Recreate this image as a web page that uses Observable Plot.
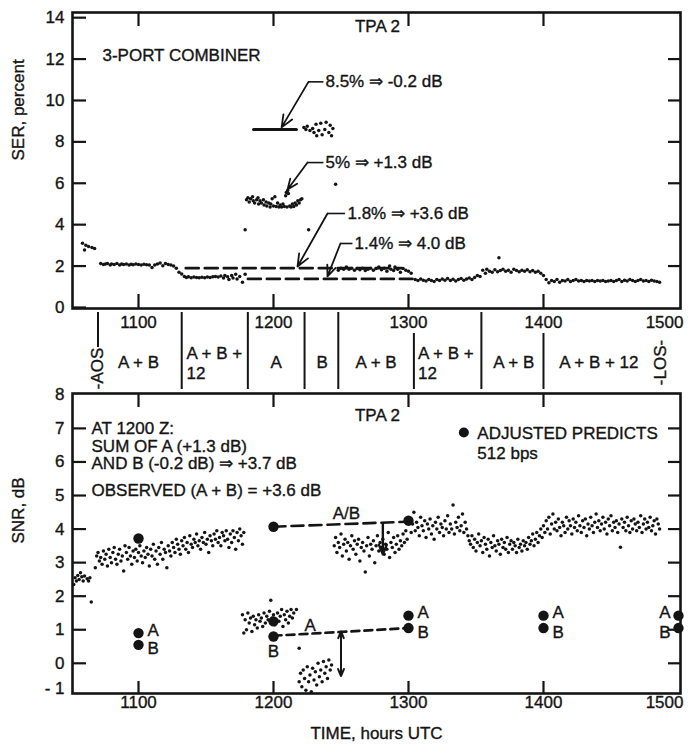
<!DOCTYPE html>
<html><head><meta charset="utf-8">
<script src="https://cdn.jsdelivr.net/npm/d3@7"></script>
<script src="https://cdn.jsdelivr.net/npm/@observablehq/plot@0.6"></script>
<style>
body{margin:0;background:#fff}
#chart{width:698px;height:749px;overflow:hidden}
#chart svg{display:block}
</style>
</head><body><div id="chart"></div>
<script>
// ---------- shared axis values (time in decimal hours UTC) ----------
const timeTicks = [11, 12, 13, 14, 15];
const frameTimeTicks = [11, 12, 13, 14];
const serTicks = [0, 2, 4, 6, 8, 10, 12, 14];
const serRightTicks = [2, 4, 6, 8, 10, 12];
const snrTicks = [0, 1, 2, 3, 4, 5, 6, 7, 8];
const snrTickMarks = [0, 1, 2, 3, 4, 5, 6, 7];

// ---------- SER, percent (top panel) ----------
const serAOS = [[10.585,3.1],[10.6,2.78],[10.61,3.0],[10.63,2.95],[10.655,2.9],[10.675,2.85]];
const ser21 = [[10.72,2.12],[10.74,2.08],[10.755,2.1],[10.77,2.13],[10.79,2.05],[10.8,2.1],[10.82,2.08],[10.84,2.12],[10.86,2.05],[10.875,2.1],[10.89,2.07],[10.91,2.1],[10.93,2.05],[10.945,2.09],[10.96,2.06],[10.98,2.1],[11.0,2.07],[11.02,2.05],[11.04,2.09],[11.06,2.06],[11.08,2.05],[11.1,1.93],[11.12,2.05],[11.14,2.1],[11.16,2.15],[11.18,2.02],[11.2,2.12],[11.22,2.08],[11.24,2.05],[11.26,2.0],[11.28,1.9],[11.3,1.7]];
const ser15 = [[11.32,1.62],[11.34,1.5],[11.355,1.45],[11.37,1.48],[11.39,1.44],[11.41,1.47],[11.43,1.45],[11.45,1.43],[11.47,1.46],[11.49,1.44],[11.51,1.47],[11.53,1.45],[11.55,1.48],[11.57,1.5],[11.59,1.47],[11.61,1.52],[11.63,1.42],[11.64,1.55],[11.66,1.48],[11.67,1.35],[11.69,1.55],[11.7,1.42],[11.72,1.6],[11.73,1.38],[11.75,1.5],[11.77,1.22],[11.79,1.6]];
const serStray = [[11.79,3.75],[12.26,3.75],[12.46,5.95],[13.67,2.4]];
const ser5 = [[11.8,5.2],[11.81,5.3],[11.82,5.1],[11.83,5.25],[11.845,5.35],[11.85,5.15],[11.86,5.05],[11.875,5.2],[11.885,5.3],[11.89,5.0],[11.9,5.15],[11.91,5.05],[11.925,5.2],[11.93,4.95],[11.945,5.1],[11.95,4.9],[11.965,5.05],[11.975,4.85],[11.98,5.0],[11.99,5.25],[12.0,4.9],[12.01,5.35],[12.02,4.88],[12.03,5.05],[12.04,4.85],[12.05,4.95],[12.06,4.85],[12.07,5.0],[12.08,4.88],[12.09,5.4],[12.095,5.55],[12.1,4.85],[12.105,5.65],[12.11,5.5],[12.12,4.9],[12.13,4.85],[12.14,5.0],[12.15,4.88],[12.16,5.05],[12.17,4.95],[12.18,5.15],[12.19,5.05],[12.2,5.2],[12.21,5.25]];
const ser85 = [[12.225,8.7],[12.24,8.6],[12.25,8.75],[12.27,8.55],[12.29,8.65],[12.3,8.45],[12.315,8.85],[12.32,8.3],[12.335,8.55],[12.35,8.9],[12.36,8.35],[12.38,8.6],[12.39,8.95],[12.41,8.45],[12.42,8.8],[12.43,8.3],[12.44,8.65]];
const ser18 = [[12.48,1.8],[12.5,1.9],[12.52,1.85],[12.54,1.95],[12.56,1.85],[12.58,1.9],[12.6,1.8],[12.62,1.88],[12.64,1.82],[12.66,1.9],[12.68,1.78],[12.7,1.85],[12.72,1.9],[12.74,1.8],[12.76,1.88],[12.78,1.95],[12.8,1.82],[12.82,1.9],[12.84,1.75],[12.86,2.0],[12.87,1.85],[12.89,1.78],[12.9,1.95],[12.92,1.85],[12.94,1.7],[12.96,1.88],[12.98,1.8],[13.0,1.75],[13.02,1.65]];
const ser13 = [[13.05,1.35],[13.07,1.3],[13.09,1.38],[13.11,1.32],[13.13,1.28],[13.15,1.35],[13.17,1.3],[13.19,1.25],[13.21,1.35],[13.23,1.3],[13.25,1.38],[13.27,1.32],[13.29,1.4],[13.31,1.3],[13.33,1.36],[13.35,1.28],[13.37,1.35],[13.39,1.4],[13.41,1.32],[13.43,1.38],[13.45,1.42],[13.47,1.35],[13.49,1.45],[13.51,1.55],[13.53,1.5]];
const ser17 = [[13.55,1.8],[13.57,1.65],[13.58,1.85],[13.6,1.75],[13.62,1.7],[13.64,1.82],[13.66,1.72],[13.68,1.78],[13.7,1.85],[13.72,1.75],[13.74,1.8],[13.76,1.7],[13.78,1.85],[13.8,1.78],[13.82,1.72],[13.84,1.8],[13.86,1.75],[13.88,1.82],[13.9,1.72],[13.92,1.78],[13.94,1.7],[13.96,1.75],[13.98,1.65],[14.0,1.55]];
const ser12 = [[14.02,1.35],[14.04,1.2],[14.06,1.3],[14.08,1.25],[14.1,1.35],[14.12,1.22],[14.14,1.3],[14.16,1.28],[14.18,1.35],[14.2,1.25],[14.22,1.3],[14.24,1.35],[14.26,1.28],[14.28,1.3],[14.3,1.25],[14.32,1.3],[14.34,1.28],[14.36,1.3],[14.38,1.26],[14.4,1.3],[14.42,1.28],[14.44,1.3],[14.46,1.25],[14.48,1.28],[14.5,1.3],[14.52,1.26],[14.54,1.3],[14.56,1.35],[14.58,1.25],[14.6,1.32],[14.62,1.28],[14.64,1.35],[14.66,1.3],[14.68,1.25],[14.7,1.3],[14.72,1.35],[14.74,1.28],[14.76,1.3],[14.78,1.25],[14.8,1.32],[14.82,1.28],[14.84,1.25],[14.86,1.22]];

// SER annotation levels
const serLevel85 = [[11.852, 8.6], [12.17, 8.6]];
const serDash18 = [[11.35, 1.9], [12.95, 1.9]];
const serDash14 = [[11.81, 1.38], [13.03, 1.38]];
const serNotes = [
  {text: "8.5% \u21D2 -0.2 dB", ex: 12.259, ey: 10.9, hx: 12.37, tx: 12.385, ax: 12.06, ay: 8.7},
  {text: "5% \u21D2 +1.3 dB",   ex: 12.252, ey: 7.0,  hx: 12.37, tx: 12.385, ax: 12.104, ay: 5.7},
  {text: "1.8% \u21D2 +3.6 dB", ex: 12.40,  ey: 4.54, hx: 12.53, tx: 12.548, ax: 12.178, ay: 1.98},
  {text: "1.4% \u21D2 4.0 dB",  ex: 12.496, ey: 3.09, hx: 12.585, tx: 12.60, ax: 12.40, ay: 1.5}
];

// ---------- spacecraft mode band ----------
const aosTime = 10.70;
const losTime = 14.87;
const modeBreaks = [11.32, 11.81, 12.23, 12.48, 13.04, 13.54, 14.0];
const modeLabels = [
  {label: "A + B", t: 11.0, two: false},
  {label: "A + B +\n12", t: 11.355, two: true},
  {label: "A", t: 12.02, two: false},
  {label: "B", t: 12.36, two: false},
  {label: "A + B", t: 12.76, two: false},
  {label: "A + B +\n12", t: 13.07, two: true},
  {label: "A + B", t: 13.78, two: false},
  {label: "A + B + 12", t: 14.41, two: false}
];

// ---------- SNR, dB (bottom panel) ----------
const snrStart = [[10.52,2.35],[10.53,2.55],[10.54,2.45],[10.55,2.62],[10.56,2.5],[10.57,2.7],[10.58,2.58],[10.59,2.45],[10.6,2.6],[10.62,2.52],[10.63,2.45],[10.64,2.55],[10.65,1.83]];
const snrAB1 = [[10.68,2.85],[10.69,3.2],[10.7,3.3],[10.71,3.05],[10.72,3.15],[10.73,2.95],[10.74,3.35],[10.75,3.1],[10.76,3.25],[10.77,2.9],[10.78,3.4],[10.79,3.15],[10.8,3.0],[10.81,3.3],[10.82,3.45],[10.83,3.1],[10.84,2.95],[10.85,3.25],[10.86,3.4],[10.87,3.05],[10.88,3.2],[10.89,2.75],[10.9,3.5],[10.91,3.3],[10.92,3.1],[10.93,3.45],[10.94,3.2],[10.95,2.95],[10.96,3.35],[10.97,3.15],[10.98,3.4],[10.99,3.05],[11.0,3.3],[11.01,3.5],[11.02,3.2],[11.03,3.0],[11.04,3.35],[11.05,3.15],[11.06,3.45],[11.07,3.25],[11.08,2.9],[11.09,3.4],[11.1,3.2],[11.11,3.55],[11.12,3.1],[11.13,3.35],[11.14,2.95],[11.15,3.45],[11.16,3.25],[11.17,3.6],[11.18,3.1],[11.19,3.4],[11.2,3.3],[11.21,2.85],[11.22,3.5],[11.23,3.35],[11.24,3.2],[11.25,3.6],[11.26,3.45],[11.27,3.3],[11.28,3.7],[11.29,3.55],[11.3,3.4],[11.31,3.25],[11.32,3.65],[11.33,3.5],[11.34,3.75],[11.35,3.4],[11.36,3.6],[11.37,3.3],[11.38,3.8],[11.39,3.55],[11.4,3.45],[11.41,3.7],[11.42,3.6],[11.43,3.85],[11.44,3.5],[11.45,3.65],[11.46,3.4],[11.47,3.75],[11.48,3.6],[11.49,3.9],[11.5,3.55],[11.51,3.7],[11.52,3.3],[11.53,3.8],[11.54,3.65],[11.55,3.5],[11.56,3.85],[11.57,3.7],[11.58,3.95],[11.59,3.6],[11.6,3.75],[11.61,3.5],[11.62,3.9],[11.63,3.8],[11.64,3.65],[11.65,3.95],[11.66,3.7],[11.67,3.45],[11.68,3.85],[11.69,3.6],[11.7,3.95],[11.71,3.75],[11.72,3.4],[11.73,3.9],[11.74,3.65],[11.75,4.0],[11.76,3.8],[11.77,3.55],[11.78,3.9]];
const snrA = [[11.77,1.45],[11.78,0.9],[11.79,1.3],[11.8,1.0],[11.81,1.5],[11.82,1.2],[11.83,1.35],[11.84,0.95],[11.85,1.4],[11.86,1.15],[11.87,1.3],[11.88,1.05],[11.89,1.45],[11.9,1.25],[11.91,1.35],[11.92,1.1],[11.93,1.5],[11.94,1.2],[11.95,1.4],[11.96,1.3],[11.97,1.55],[11.98,1.2],[11.99,1.35],[12.0,1.45],[12.01,1.15],[12.02,1.3],[12.03,1.5],[12.04,1.25],[12.05,1.4],[12.06,1.6],[12.07,1.1],[12.08,1.45],[12.09,1.3],[12.1,1.55],[12.11,1.2],[12.12,1.4],[12.13,1.6],[12.14,1.35],[12.15,1.5],[12.17,1.6],[11.98,1.88],[12.19,0.45]];
const snrB = [[12.19,-0.55],[12.2,-0.3],[12.21,-0.7],[12.22,-0.2],[12.23,-0.45],[12.24,-0.8],[12.25,-0.1],[12.26,-0.55],[12.27,-0.35],[12.28,-0.85],[12.29,-0.15],[12.3,-0.5],[12.31,-0.25],[12.32,-0.65],[12.33,0.0],[12.34,-0.4],[12.35,-0.2],[12.36,-0.55],[12.37,0.05],[12.38,-0.3],[12.39,-0.1],[12.4,-0.45],[12.41,0.1],[12.42,-0.2],[12.43,-0.05]];
const snrAB2 = [[12.45,3.5],[12.46,3.75],[12.47,3.3],[12.48,3.6],[12.49,3.45],[12.5,3.85],[12.51,3.2],[12.52,3.55],[12.53,3.7],[12.54,3.35],[12.55,3.6],[12.56,3.1],[12.57,3.5],[12.58,3.8],[12.59,3.4],[12.6,3.65],[12.61,3.25],[12.62,3.55],[12.63,3.7],[12.64,3.05],[12.65,3.45],[12.66,3.6],[12.67,3.35],[12.68,2.72],[12.69,3.5],[12.7,3.75],[12.71,3.2],[12.72,3.55],[12.73,3.4],[12.74,3.65],[12.75,3.0],[12.76,3.5],[12.77,3.8],[12.78,3.35],[12.79,3.6],[12.8,3.45],[12.81,3.7],[12.82,3.25],[12.83,3.55],[12.84,3.4],[12.85,3.9],[12.86,3.15],[12.87,3.6],[12.88,3.45],[12.89,3.75],[12.9,3.3],[12.91,3.55],[12.92,3.8],[12.93,3.4],[12.94,3.65],[12.95,3.5],[12.96,3.85],[12.97,3.6],[12.98,3.95],[12.99,3.7]];
const snrAB3 = [[13.01,4.3],[13.02,3.9],[13.03,4.15],[13.04,4.5],[13.05,3.95],[13.06,4.2],[13.07,4.05],[13.08,3.8],[13.09,4.35],[13.1,4.1],[13.11,3.95],[13.12,4.25],[13.13,3.75],[13.14,4.15],[13.15,4.0],[13.16,4.3],[13.17,3.85],[13.18,4.1],[13.19,3.7],[13.2,4.2],[13.21,4.0],[13.22,4.35],[13.23,3.9],[13.24,4.15],[13.25,4.05],[13.26,3.8],[13.27,4.25],[13.28,4.0],[13.29,4.4],[13.3,3.9],[13.31,4.15],[13.32,4.0],[13.33,4.72],[13.34,3.85],[13.35,4.2],[13.36,4.05],[13.37,4.35],[13.38,3.95],[13.39,4.1],[13.4,4.45],[13.41,3.9],[13.42,4.2],[13.43,4.0],[13.44,3.8],[13.45,3.65],[13.46,3.55],[13.47,3.8],[13.48,3.45],[13.49,3.7],[13.5,3.35],[13.51,3.6],[13.52,3.85],[13.53,3.5],[13.54,3.65],[13.55,3.3],[13.56,3.75],[13.57,3.55],[13.58,3.4],[13.59,3.7],[13.6,3.2],[13.61,3.6],[13.62,3.45],[13.63,3.8],[13.64,3.5],[13.65,3.35],[13.66,3.65],[13.67,3.55],[13.68,3.25],[13.69,3.7],[13.7,3.45],[13.71,3.6],[13.72,3.4],[13.73,3.75],[13.74,3.3],[13.75,3.55],[13.76,3.65],[13.77,3.4],[13.78,3.6],[13.79,3.5],[13.8,3.3],[13.81,3.7],[13.82,3.45],[13.83,3.55],[13.84,3.35],[13.85,3.65],[13.86,3.5],[13.87,3.6],[13.88,3.4],[13.89,3.75],[13.9,3.55],[13.91,3.65],[13.92,3.85],[13.93,3.5],[13.94,3.7],[13.95,3.9],[13.96,3.6],[13.97,3.8],[13.98,4.0],[13.99,3.75],[14.0,4.1],[14.01,3.9],[14.02,4.25],[14.03,4.0],[14.04,4.35],[14.05,3.85],[14.06,4.15],[14.07,4.45],[14.08,4.0],[14.09,4.2],[14.1,3.95],[14.11,4.3],[14.12,4.05],[14.13,3.8],[14.14,4.2],[14.15,4.1],[14.16,3.9],[14.17,4.35],[14.18,4.0],[14.19,4.25],[14.2,4.1],[14.21,3.85],[14.22,4.3],[14.23,4.05],[14.24,4.2],[14.25,3.95],[14.26,4.4],[14.27,4.1],[14.28,3.9],[14.29,4.25],[14.3,4.05],[14.31,4.3],[14.32,3.8],[14.33,4.15],[14.34,4.0],[14.35,4.35],[14.36,4.1],[14.37,3.9],[14.38,4.2],[14.39,4.45],[14.4,4.05],[14.41,4.25],[14.42,3.95],[14.43,4.15],[14.44,4.35],[14.45,4.0],[14.46,4.2],[14.47,3.85],[14.48,4.3],[14.49,4.1],[14.5,4.4],[14.51,3.95],[14.52,4.2],[14.53,4.05],[14.54,4.25],[14.55,3.9],[14.56,4.15],[14.57,3.46],[14.58,4.3],[14.59,4.05],[14.6,4.2],[14.61,3.95],[14.62,4.35],[14.63,4.1],[14.64,3.9],[14.65,4.25],[14.66,4.0],[14.67,4.3],[14.68,4.15],[14.69,3.95],[14.7,4.2],[14.71,4.05],[14.72,4.4],[14.73,3.9],[14.74,4.15],[14.75,4.3],[14.76,4.0],[14.77,4.2],[14.78,4.05],[14.79,4.35],[14.8,3.95],[14.81,4.1],[14.82,4.25],[14.83,3.85],[14.84,4.3],[14.85,4.15],[14.86,4.0]];

// adjusted predicts, 512 bps
const predictAB = [[11, 3.72], [12, 4.07], [13, 4.25]];
const predictA = [[11, 0.9], [12, 1.25], [13, 1.42], [14, 1.42], [15, 1.42]];
const predictB = [[11, 0.55], [12, 0.8], [13, 1.05], [14, 1.05], [15, 1.05]];
const abDash = [[12.0, 4.07], [13.0, 4.22]];
const bDash = [[12.0, 0.82], [13.0, 1.05]];

// ---------- drawing ----------
const X_DOMAIN = [10.511, 15.015];
const INK = "#141414";
const FONT = '"Liberation Sans", Arial, Helvetica, sans-serif';
const STYLE = {fontFamily: FONT, fontSize: "17px", color: INK, background: "#fff", overflow: "visible"};
const T = {fill: INK, stroke: INK, strokeWidth: 0.35};
const FW = 608; // frame width in px
const px = d => d[0], py = d => d[1];
const hhmm = d => String(Math.round(d * 100));

const serAll = [...serAOS, ...ser21, ...ser15, ...serStray, ...ser5, ...ser85, ...ser18, ...ser13, ...ser17, ...ser12];

const topPlot = Plot.plot({
  width: 698, height: 310, marginLeft: 72, marginRight: 18, marginTop: 12, marginBottom: 2,
  x: {domain: X_DOMAIN, axis: null},
  y: {domain: [-0.05, 14.25], axis: null},
  style: STYLE,
  marks: [
    Plot.tickY(serTicks, {y: d => d, insetRight: FW - 14, strokeWidth: 2.2, stroke: INK}),
    Plot.tickY(serRightTicks, {y: d => d, insetLeft: FW - 12, strokeWidth: 2.2, stroke: INK}),
    Plot.tickX(frameTimeTicks, {x: d => d, insetBottom: 296 - 14, strokeWidth: 2.2, stroke: INK}),
    Plot.tickX(frameTimeTicks, {x: d => d, insetTop: 296 - 14, strokeWidth: 2.2, stroke: INK}),
    Plot.text(serTicks, {y: d => d, frameAnchor: "left", dx: -8, textAnchor: "end", text: d => String(d), ...T}),
    Plot.text(["SER, percent"], {frameAnchor: "left", dx: -54, rotate: -90, text: d => d, ...T}),
    Plot.text(["3-PORT COMBINER"], {x: 10.733, y: 12.15, textAnchor: "start", text: d => d, ...T}),
    Plot.text(["TPA 2"], {x: 12.77, y: 13.55, text: d => d, ...T}),
    Plot.line(serLevel85, {x: px, y: py, strokeWidth: 3, stroke: INK}),
    Plot.line(serDash18, {x: px, y: py, strokeWidth: 2.6, strokeDasharray: "13,6", stroke: INK}),
    Plot.line(serDash14, {x: px, y: py, strokeWidth: 2.6, strokeDasharray: "13,6", stroke: INK}),
    Plot.link(serNotes, {x1: "ex", y1: "ey", x2: "hx", y2: "ey", strokeWidth: 1.6, stroke: INK}),
    Plot.arrow(serNotes, {x1: "ex", y1: "ey", x2: "ax", y2: "ay", strokeWidth: 1.8, headLength: 11, headAngle: 45, stroke: INK}),
    Plot.text(serNotes, {x: "tx", y: "ey", text: "text", textAnchor: "start", ...T}),
    Plot.dot(serAll, {x: px, y: py, r: 1.75, fill: INK, stroke: null}),
    Plot.frame({strokeWidth: 2.6, stroke: INK})
  ]
});

const bandPlot = Plot.plot({
  width: 698, height: 82, marginLeft: 72, marginRight: 18, marginTop: 0, marginBottom: 0,
  x: {domain: X_DOMAIN, axis: null},
  y: {domain: [0, 82], range: [0, 82], axis: null},
  style: STYLE,
  marks: [
    Plot.text(timeTicks.filter(t => t < 15), {x: d => d, y: 12, text: hhmm, ...T}),
    Plot.text(timeTicks.filter(t => t === 15), {x: d => d, y: 12, dx: 5, textAnchor: "end", text: hhmm, ...T}),
    Plot.ruleX(modeBreaks, {x: d => d, y1: d => (Math.abs(d - Math.round(d)) < 0.06 ? 23 : 2), y2: 79, strokeWidth: 2, stroke: INK}),
    Plot.ruleX([aosTime], {x: d => d, y1: 2, y2: 37, strokeWidth: 2, stroke: INK}),
    Plot.text(["-AOS"], {x: aosTime, y: 58, rotate: -90, text: d => d, ...T}),
    Plot.text(["-LOS-"], {x: losTime, y: 52, rotate: -90, text: d => d, ...T}),
    Plot.text(modeLabels.filter(d => !d.two), {x: "t", y: 52, text: "label", ...T}),
    Plot.text(modeLabels.filter(d => d.two), {x: "t", y: 52, text: "label", textAnchor: "start", lineHeight: 1.15, ...T})
  ]
});

const snrDots = [...snrStart, ...snrAB1, ...snrA, ...snrB, ...snrAB2, ...snrAB3];
const bigDots = [...predictAB, ...predictA, ...predictB];

const bottomPlot = Plot.plot({
  width: 698, height: 357, marginLeft: 72, marginRight: 18, marginTop: 1, marginBottom: 56,
  x: {domain: X_DOMAIN, axis: null},
  y: {domain: [-0.9, 8.04], axis: null},
  style: STYLE,
  marks: [
    Plot.tickY(snrTickMarks, {y: d => d, insetRight: FW - 14, strokeWidth: 2.2, stroke: INK}),
    Plot.tickY(snrTickMarks, {y: d => d, insetLeft: FW - 12, strokeWidth: 2.2, stroke: INK}),
    Plot.tickX(frameTimeTicks, {x: d => d, insetBottom: 300 - 14, strokeWidth: 2.2, stroke: INK}),
    Plot.tickX(frameTimeTicks, {x: d => d, insetTop: 300 - 12, strokeWidth: 2.2, stroke: INK}),
    Plot.text(snrTicks, {y: d => d, frameAnchor: "left", dx: -8, textAnchor: "end", text: d => String(d), ...T}),
    Plot.text([-1], {y: d => d, frameAnchor: "left", dx: -8, dy: -8, textAnchor: "end", text: () => "- 1", ...T}),
    Plot.text(timeTicks.filter(t => t < 15), {x: d => d, frameAnchor: "bottom", dy: 14, text: hhmm, ...T}),
    Plot.text(timeTicks.filter(t => t === 15), {x: d => d, frameAnchor: "bottom", dy: 14, dx: 5, textAnchor: "end", text: hhmm, ...T}),
    Plot.text(["TIME, hours UTC"], {frameAnchor: "bottom", dy: 45, text: d => d, ...T}),
    Plot.text(["SNR, dB"], {frameAnchor: "left", dx: -54, rotate: -90, text: d => d, ...T}),
    Plot.text(["AT 1200 Z:\nSUM OF A (+1.3 dB)\nAND B (-0.2 dB) \u21D2 +3.7 dB"], {x: 10.652, y: 6.48, textAnchor: "start", lineHeight: 1.05, text: d => d, ...T}),
    Plot.text(["OBSERVED (A + B) = +3.6 dB"], {x: 10.652, y: 5.15, textAnchor: "start", text: d => d, ...T}),
    Plot.text(["TPA 2"], {x: 12.77, y: 7.39, text: d => d, ...T}),
    Plot.dot([[13.41, 6.88]], {x: px, y: py, r: 5, fill: INK}),
    Plot.text(["ADJUSTED PREDICTS\n512 bps"], {x: 13.51, y: 6.57, textAnchor: "start", lineHeight: 1.15, text: d => d, ...T}),
    Plot.line(abDash, {x: px, y: py, strokeWidth: 2.6, strokeDasharray: "12,6", stroke: INK}),
    Plot.line(bDash, {x: px, y: py, strokeWidth: 2.6, strokeDasharray: "8,5", stroke: INK}),
    Plot.arrow([[12.5, 0.3, 12.5, 0.95], [12.5, 0.3, 12.5, -0.38]], {x1: d => d[0], y1: d => d[1], x2: d => d[2], y2: d => d[3], strokeWidth: 2, headLength: 9, headAngle: 45, stroke: INK}),
    Plot.arrow([[12.81, 4.17, 12.81, 3.25]], {x1: d => d[0], y1: d => d[1], x2: d => d[2], y2: d => d[3], strokeWidth: 2.4, headLength: 8, headAngle: 45, stroke: INK}),
    Plot.text(["A/B"], {x: 12.54, y: 4.47, text: d => d, ...T}),
    Plot.dot(snrDots, {x: px, y: py, r: 1.75, fill: INK, stroke: null}),
    Plot.dot(bigDots, {x: px, y: py, r: 5.2, fill: INK, stroke: null}),
    Plot.text([predictA[0], predictA[2], predictA[3]], {x: px, y: py, dx: 9, dy: -3, textAnchor: "start", text: () => "A", ...T}),
    Plot.text([predictB[0], predictB[2], predictB[3]], {x: px, y: py, dx: 9, dy: 4, textAnchor: "start", text: () => "B", ...T}),
    Plot.text([predictA[4]], {x: px, y: py, dx: -8, dy: -3, textAnchor: "end", text: () => "A", ...T}),
    Plot.text([predictB[4]], {x: px, y: py, dx: -8, dy: 4, textAnchor: "end", text: () => "B", ...T}),
    Plot.text([predictA[1]], {x: px, y: py, dx: 31, dy: 4, textAnchor: "start", text: () => "A", ...T}),
    Plot.text([predictB[1]], {x: px, y: py, dy: 15, text: () => "B", ...T}),
    Plot.frame({strokeWidth: 2.6, stroke: INK})
  ]
});

const root = document.getElementById("chart");
root.append(topPlot, bandPlot, bottomPlot);
</script>
</body></html>
